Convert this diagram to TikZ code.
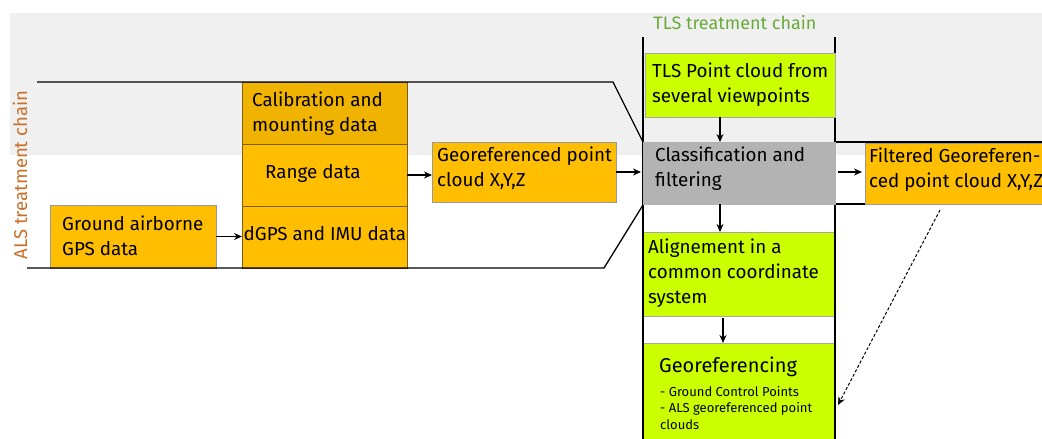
\documentclass[tikz,border=0pt]{standalone}
\usepackage{fontspec}
\setmainfont{Fira Sans}
\usetikzlibrary{arrows.meta}
\definecolor{orng}{HTML}{FFBF00}
\definecolor{orngd}{HTML}{F0B400}
\definecolor{lgreen}{HTML}{CCFF00}
\definecolor{greybox}{HTML}{B3B3B3}
\definecolor{band}{HTML}{F0F0F0}
\definecolor{alsc}{HTML}{C8702A}
\definecolor{tlsc}{HTML}{6AAA3A}
\definecolor{colb}{HTML}{7A5E1A}
\begin{document}
\begin{tikzpicture}[x=1pt,y=-1pt,
  every node/.style={font=\fontsize{18.8}{25}\selectfont, align=left},
  box/.style={rectangle, anchor=north west, inner sep=0pt, outer sep=0pt},
  txt/.style={anchor=west, inner sep=0pt},
  obox/.style={box, fill=orng, draw=black!40, line width=0.8pt},
  cbox/.style={box, fill=orng, draw=colb, line width=1pt},
  gnbox/.style={box, fill=lgreen, draw=black!35, line width=0.7pt},
  gybox/.style={box, fill=greybox, draw=black!30, line width=0.7pt},
  arr/.style={-{Stealth[length=8pt,width=7pt]}, line width=1.2pt},
  chainline/.style={line width=1.3pt, black}]
\clip (0,0) rectangle (1042,439);
\fill[white] (0,0) rectangle (1042,439);
\fill[band] (10,13) rectangle (1042,155);

% ALS boxes
\node[obox, minimum width=166pt, minimum height=63pt] (gnd) at (50,205) {};
\node[cbox, fill=orngd, minimum width=165pt, minimum height=62pt] (cal) at (242,82) {};
\node[cbox, minimum width=165pt, minimum height=62pt] (rng) at (242,144) {};
\node[cbox, minimum width=165pt, minimum height=62pt] (dgps) at (242,206) {};
\node[obox, minimum width=184pt, minimum height=60pt] (geor) at (432,142) {};

\node[txt, yshift=1pt] (gndt) at ([xshift=12pt]gnd.west) {Ground airborne\\GPS data};
\node[txt, yshift=-1pt] (calt) at ([xshift=10pt]cal.west) {Calibration and\\mounting data};
\node[txt, yshift=2pt] (rngt) at ([xshift=23pt]rng.west) {Range data};
\node[txt, yshift=3pt] (dgpst) at ([xshift=1.5pt]dgps.west) {dGPS and IMU data};
\node[txt, yshift=4pt] (geort) at ([xshift=5pt]geor.west) {Georeferenced point\\cloud X,Y,Z};

% chain outlines
\draw[chainline] (37,82) -- (613,82) -- (643,142);
\draw[chainline] (27,268) -- (604,268) -- (643,205);
\draw[chainline] (643,37) -- (643,439);
\draw[chainline] (835,37) -- (835,439);
\draw[chainline] (835,142) -- (1042,142);
\draw[chainline] (835,204) -- (870,204);

% TLS boxes
\node[gnbox, minimum width=190pt, minimum height=64pt] (tls) at (645,53) {};
\node[gybox, minimum width=192pt, minimum height=62pt] (cls) at (643,142) {};
\node[gnbox, minimum width=191pt, minimum height=84pt] (aln) at (643,232) {};
\node[gnbox, minimum width=191pt, minimum height=100pt] (geo) at (643,343) {};
\node[obox, minimum width=200pt, minimum height=61pt] (flt) at (865,143) {};
\draw[chainline] (643,232) -- (643,439);
\draw[chainline] (835,232) -- (835,439);

\node[txt, yshift=0pt] (tlst) at ([xshift=7pt]tls.west) {TLS Point cloud from\\several viewpoints};
\node[txt, yshift=4pt] (clst) at ([xshift=12pt]cls.west) {Classification and\\filtering};
\node[txt, yshift=1pt] (alnt) at ([xshift=5pt]aln.west) {Alignement in a\\common coordinate\\system};
\node[txt, yshift=4pt] (fltt) at ([xshift=4pt]flt.west) {Filtered Georeferen-\\ced point cloud X,Y,Z};

\node[anchor=west, inner sep=0pt, font=\fontsize{20}{24}\selectfont] (geot) at (659,367) {Georeferencing};
\node[anchor=north west, inner sep=0pt, font=\fontsize{13}{16.5}\selectfont] (geob) at (660,386) {- Ground Control Points\\- ALS georeferenced point\\clouds};

% labels
\node[rotate=90, text=alsc, inner sep=0pt, font=\fontsize{18.5}{22}\selectfont] (als) at (20,175) {ALS treatment chain};
\node[text=tlsc, inner sep=0pt, font=\fontsize{18}{20}\selectfont] (tlsl) at (735,23) {TLS treatment chain};

% connectors
\coordinate (xa) at (720,0);
\coordinate (xb) at (723,0);
\coordinate (ds) at (940,210);
\coordinate (de) at (838,405);
\draw[arr] (gnd.east) -- (dgps.west |- gnd.east);
\draw[arr] (rng.east) -- (rng.east -| geor.west);
\draw[arr, shorten >=2pt] (geor.east) -- (geor.east -| cls.west);
\draw[arr] (tls.south -| xa) -- (cls.north -| xa);
\draw[arr] (cls.south -| xa) -- (aln.north -| xa);
\draw[arr, shorten <=2pt] (aln.south -| xb) -- (geo.north -| xb);
\draw[arr, shorten <=3pt, shorten >=3pt] (cls.east |- 0,172) -- (flt.west |- 0,172);
\draw[arr, densely dashed, line width=1pt] (ds) -- (de);
\end{tikzpicture}
\end{document}
